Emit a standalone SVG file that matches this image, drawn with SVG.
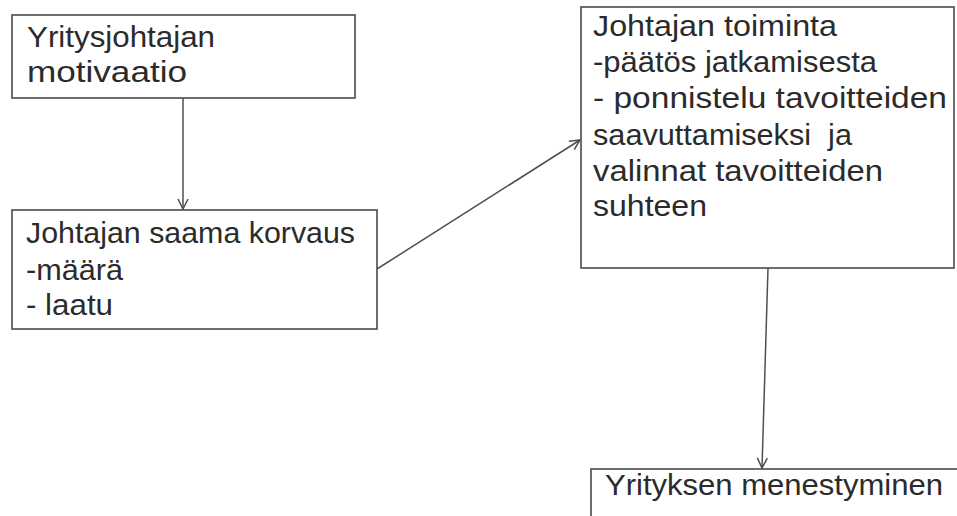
<svg xmlns="http://www.w3.org/2000/svg" width="957" height="516" viewBox="0 0 957 516">
  <style>
    .box { fill: #ffffff; stroke: #4a4a4a; stroke-width: 1.6; }
    .lbl { font-family: "Liberation Sans", Arial, sans-serif; font-size: 29px; fill: #2b2b2b; white-space: pre; }
    .conn { stroke: #4f4f4f; stroke-width: 1.5; fill: none; }
  </style>
  <defs>
    <marker id="arrow" viewBox="0 0 12 12" refX="11" refY="6" markerWidth="12" markerHeight="12" markerUnits="userSpaceOnUse" orient="auto">
      <path d="M1,1 L11,6 L1,11" fill="none" stroke="#4f4f4f" stroke-width="1.5"/>
    </marker>
  </defs>
  <rect width="957" height="516" fill="#ffffff"/>

  <g id="motivation">
    <rect class="box" x="12" y="15" width="343" height="83"/>
    <text class="lbl" x="27" y="47" textLength="188" lengthAdjust="spacingAndGlyphs">Yritysjohtajan</text>
    <text class="lbl" x="27" y="82" textLength="160" lengthAdjust="spacingAndGlyphs">motivaatio</text>
  </g>

  <g id="compensation">
    <rect class="box" x="12" y="210" width="365" height="119"/>
    <text class="lbl" x="26" y="243" textLength="329" lengthAdjust="spacingAndGlyphs">Johtajan saama korvaus</text>
    <text class="lbl" x="26" y="280" textLength="97" lengthAdjust="spacingAndGlyphs">-määrä</text>
    <text class="lbl" x="26" y="315" textLength="87" lengthAdjust="spacingAndGlyphs">- laatu</text>
  </g>

  <g id="action">
    <rect class="box" x="581" y="7" width="373" height="261"/>
    <text class="lbl" x="593" y="36" textLength="244" lengthAdjust="spacingAndGlyphs">Johtajan toiminta</text>
    <text class="lbl" x="593" y="72" textLength="284" lengthAdjust="spacingAndGlyphs">-päätös jatkamisesta</text>
    <text class="lbl" x="593" y="108" textLength="354" lengthAdjust="spacingAndGlyphs">- ponnistelu tavoitteiden</text>
    <text class="lbl" x="593" y="145" textLength="259" lengthAdjust="spacingAndGlyphs">saavuttamiseksi  ja</text>
    <text class="lbl" x="593" y="181" textLength="290" lengthAdjust="spacingAndGlyphs">valinnat tavoitteiden</text>
    <text class="lbl" x="593" y="216" textLength="114" lengthAdjust="spacingAndGlyphs">suhteen</text>
  </g>

  <g id="success">
    <rect class="box" x="591" y="469" width="400" height="80"/>
    <text class="lbl" x="605" y="495" textLength="338" lengthAdjust="spacingAndGlyphs">Yrityksen menestyminen</text>
  </g>

  <g id="connectors">
    <line class="conn" x1="183" y1="98" x2="183" y2="209" marker-end="url(#arrow)"/>
    <line class="conn" x1="377" y1="269" x2="580" y2="140" marker-end="url(#arrow)"/>
    <line class="conn" x1="768" y1="268" x2="762" y2="468" marker-end="url(#arrow)"/>
  </g>
</svg>
